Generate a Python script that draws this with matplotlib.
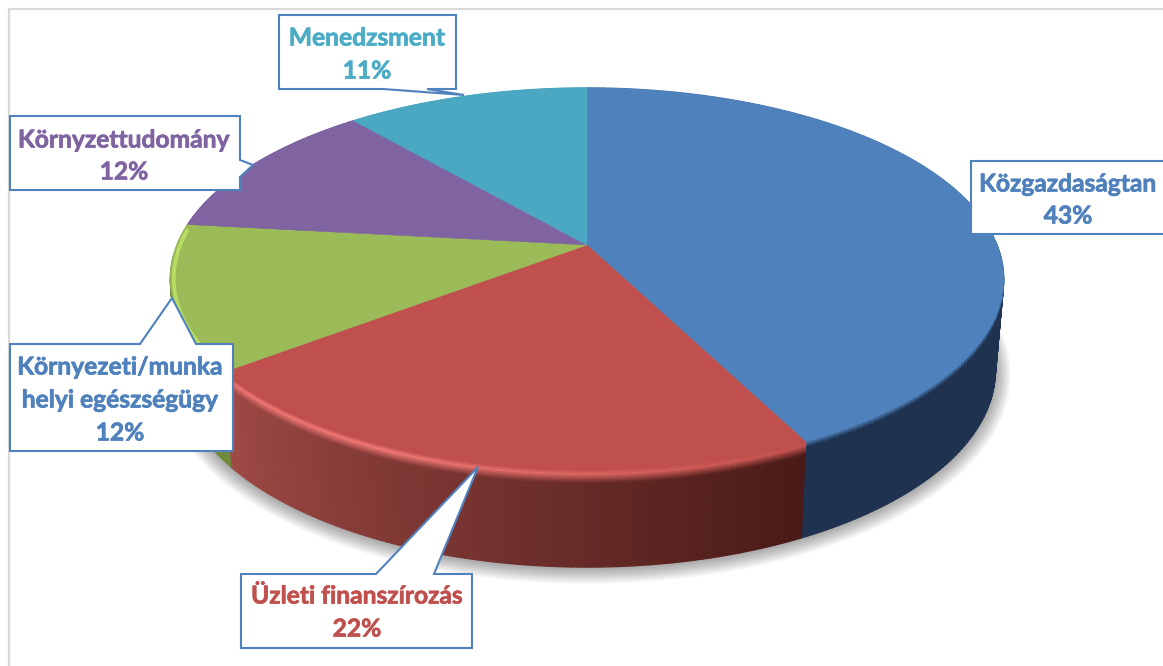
import numpy as np
import matplotlib
matplotlib.use("Agg")
import matplotlib.pyplot as plt
import matplotlib.patheffects as pe
from matplotlib.collections import PolyCollection
from matplotlib.colors import to_rgb

categories = ["Közgazdaságtan", "Üzleti finanszírozás", "Környezeti/munka\nhelyi egészségügy",
              "Környzettudomány", "Menedzsment"]
values = [42.6, 21.9, 12.3, 12.0, 11.2]
top_colors = ["#4f81bd", "#c0504d", "#9bbb59", "#8064a2", "#4aa8c2"]
text_colors = ["#4f81bd", "#c0504d", "#4f81bd", "#8064a2", "#4bacc6"]
side_start = ["#1f3350", "#481a17", "#6f8a3c", "#5a4675", "#2f7d92"]
side_end = ["#1f3350", "#a04a46", "#6f8a3c", "#5a4675", "#2f7d92"]
rim_colors = ["#1f3350", "#ee7674", "#b9dc62", "#8064a2", "#4aa8c2"]

W, H = 1163, 666
CX, CY, R, A, C = 587, 245, 410, 185, 0.178
DEPTH, DEPTH_EXTRA, BOTTOM_SCALE = 90, 7, 0.98

fig = plt.figure(figsize=(W / 100, H / 100), dpi=100, facecolor="white")
ax = fig.add_axes([0, 0, 1, 1])
ax.set_xlim(0, W)
ax.set_ylim(H, 0)
ax.axis("off")


def top_xy(f, k=1.0):
    """Fraction of the turn (clockwise from 12 o'clock) to a point on the tilted disc."""
    a = 2 * np.pi * np.asarray(f)
    u, v = k * np.sin(a), k * np.cos(a)
    d = 1 + C * v
    return CX + R * u / d, CY - A * v / d


def side_xy(f, s):
    """Point at depth s (0 = upper edge, 1 = lower edge) of the cylinder wall."""
    x, y = top_xy(f)
    v = np.cos(2 * np.pi * np.asarray(f))
    xb = CX + (x - CX) * BOTTOM_SCALE
    yb = y + DEPTH + DEPTH_EXTRA * np.maximum(-v, 0)
    return x + (xb - x) * s, y + (yb - y) * s


def mix(a, b, w):
    a, b = np.array(to_rgb(a)), np.array(to_rgb(b))
    return tuple(a + (b - a) * w)


edges = np.concatenate([[0], np.cumsum(values)]) / np.sum(values)

# frame of the picture
ax.plot([9, 9, W], [H, 9, 9], color="#d9d9d9", lw=1.6, zorder=1)

# soft shadow beneath the disc
ff = np.linspace(0, 1, 361)
xb, yb = side_xy(ff, 1)
for g in np.linspace(16, 1, 15):
    sx = CX + (xb - CX) * (1 + g / 420)
    sy = 300 + (yb - 300) * (1 + g / 270) + 1
    ax.fill(sx, sy, color="#000000", alpha=0.022, lw=0, zorder=2)

# wall of the cylinder, bevel included
s_levels = np.concatenate([np.linspace(0, 0.16, 9), [0.4, 0.7, 1.0]])
polys, cols = [], []
for i in range(len(values)):
    fs = np.linspace(edges[i], edges[i + 1], max(int((edges[i + 1] - edges[i]) * 400), 3))
    for j in range(len(fs) - 1):
        w = (j + 0.5) / (len(fs) - 1)
        base = mix(side_start[i], side_end[i], w)
        for k in range(len(s_levels) - 1):
            s0, s1 = s_levels[k], s_levels[k + 1]
            x00, y00 = side_xy(fs[j], s0)
            x10, y10 = side_xy(fs[j + 1], s0)
            x11, y11 = side_xy(fs[j + 1], s1)
            x01, y01 = side_xy(fs[j], s1)
            polys.append([(x00, y00), (x10, y10), (x11, y11), (x01, y01)])
            sm = (s0 + s1) / 2
            if i == 1:
                rim = mix(top_colors[i], rim_colors[i], min(w * 1.6, 1))
                if sm < 0.05:
                    c = mix(top_colors[i], rim, sm / 0.05)
                elif sm < 0.14:
                    c = mix(rim, base, (sm - 0.05) / 0.09)
                else:
                    c = base
            else:
                c = mix(top_colors[i], base, min(sm / 0.07, 1))
            cols.append(c)
ax.add_collection(PolyCollection(polys, facecolors=cols, edgecolors=cols, linewidths=1.0, zorder=3))

# top face
for i in range(len(values)):
    fs = np.linspace(edges[i], edges[i + 1], 200)
    x, y = top_xy(fs)
    ax.fill(np.r_[CX, x], np.r_[CY, y], color=top_colors[i], lw=0.3, zorder=4)

# light rim of the green slice
fs = np.linspace(edges[2] + 0.002, edges[3] - 0.005, 60)
x, y = top_xy(fs, 0.992)
ax.plot(x, y, color=rim_colors[2], lw=2.6, zorder=5, solid_capstyle="round")

# call-outs: outline in picture pixels, then the label lines
callouts = [
    ([(971, 161), (1175, 161), (1175, 234), (971, 234)], 1068, [184, 216]),
    ([(241, 574), (376, 574), (478, 467), (434, 574), (472, 574), (472, 648), (241, 648)], 357, [596, 629]),
    ([(10, 344), (140, 344), (172, 298), (196, 344), (233, 344), (233, 451), (10, 451)], 120, [367, 400, 433]),
    ([(10, 116), (240, 116), (240, 160), (253, 165), (240, 177), (240, 190), (10, 190)], 124, [140, 172]),
    ([(279, 15), (456, 15), (456, 89), (427, 89), (464, 95), (383, 89), (279, 89)], 367, [38, 71]),
]
for i, (outline, tx, tys) in enumerate(callouts):
    ax.fill(*zip(*outline), facecolor="white", edgecolor="#4f81bd", lw=1.5, joinstyle="miter", zorder=6)
    lines = categories[i].split("\n") + [f"{round(values[i])}%"]
    for line, ty in zip(lines, tys):
        ax.text(tx, ty, line, color=text_colors[i], fontsize=17.7, fontweight="bold",
                family="Lato", ha="center", va="center", zorder=7,
                path_effects=[pe.withStroke(linewidth=0.5, foreground=text_colors[i])])

fig.savefig("out.png", dpi=100)
